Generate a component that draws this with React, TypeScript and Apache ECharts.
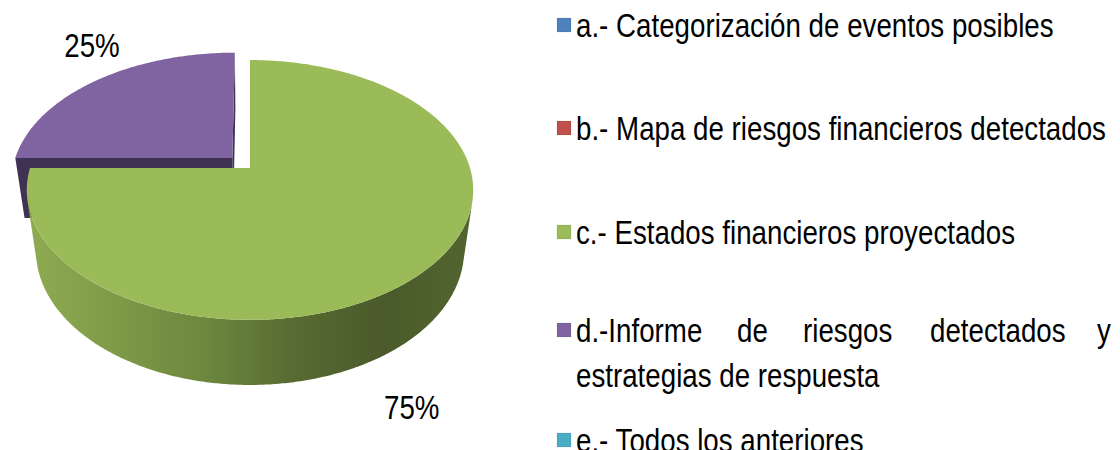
import React, { useEffect, useRef } from "react";
import * as echarts from "echarts";

// ---------- data ----------
const categories = [
  "a.- Categorización de eventos posibles",
  "b.- Mapa de riesgos financieros detectados",
  "c.- Estados financieros proyectados",
  "d.-Informe de riesgos detectados y estrategias de respuesta",
  "e.- Todos los anteriores",
];
const values = [0, 0, 75, 25, 0];

// ---------- styles / layout ----------
const topColors = ["#4F81BD", "#C0504D", "#9BBB59", "#8064A2", "#4BACC6"];
const sideStops: string[][] = [
  ["#3b6190", "#2c4a6e"],
  ["#933d3a", "#6f2e2c"],
  ["#8eab52", "#7e9a47", "#6d873e", "#576b32", "#4a5a2b", "#52652f"],
  ["#403253", "#3a2d4b"],
  ["#3a8398", "#2c6473"],
];
const explode = [0, 0, 0, 0.115, 0];
const labelOffsets = [
  [0, 0],
  [0, 0],
  [-7, 74],
  [-5, -35],
  [0, 0],
];
const legendCenters = [25, 128, 232, 330, 440];
const FONT = "'Liberation Sans', Arial, sans-serif";
const FS = 33;
const SX = 0.84;
const LH = 45;

const CX = 250;
const CY = 168;
const TILT = (35 * Math.PI) / 180;
const CAM = 4.844;
const FOCAL = 1065.7;
const DEPTH = 0.35;
const S = Math.sin(TILT);
const C = Math.cos(TILT);
const RAD = Math.PI / 180;

function project(X: number, Y: number, Z: number): number[] {
  const w = CAM - (Y * S + Z * C);
  return [CX + (FOCAL * X) / w, CY - (FOCAL * (Y * C - Z * S)) / w];
}

const total = values.reduce((a, b) => a + b, 0);
const angles: number[][] = [];
{
  let acc = -90;
  values.forEach((v) => {
    const span = (360 * v) / total;
    angles.push([acc, acc + span]);
    acc += span;
  });
}

function makeRender(idx: number) {
  return (_params: any, api: any) => {
    const v = api.value(0);
    if (!v) return { type: "group", children: [] };
    const [a0, a1] = angles[idx];
    const mid = ((a0 + a1) / 2) * RAD;
    const ox = explode[idx] * Math.cos(mid);
    const oz = explode[idx] * Math.sin(mid);
    const children: any[] = [];
    const stops = sideStops[idx];
    const sideFill = new echarts.graphic.LinearGradient(
      30,
      0,
      470,
      0,
      stops.map((c, k) => ({ offset: stops.length === 1 ? 0 : k / (stops.length - 1), color: c })),
      true
    );
    const cam = [0, CAM * S, CAM * C];
    const wall = (phi: number, nx: number, nz: number) => {
      const vis = (cam[0] - ox) * nx + (cam[2] - oz) * nz > 0;
      if (!vis) return;
      const p = phi * RAD;
      const rx = ox + Math.cos(p);
      const rz = oz + Math.sin(p);
      children.push({
        type: "polygon",
        shape: {
          points: [
            project(ox, 0, oz),
            project(rx, 0, rz),
            project(rx, -DEPTH, rz),
            project(ox, -DEPTH, oz),
          ],
        },
        style: { fill: stops[0] },
        z2: 1,
      });
    };
    wall(a0, Math.sin(a0 * RAD), -Math.cos(a0 * RAD));
    wall(a1, -Math.sin(a1 * RAD), Math.cos(a1 * RAD));
    const step = 0.5;
    let run: number[] = [];
    const flush = () => {
      if (run.length > 1) {
        const topPts = run.map((t) => project(ox + Math.cos(t * RAD), 0, oz + Math.sin(t * RAD)));
        const botPts = run
          .slice()
          .reverse()
          .map((t) => project(ox + Math.cos(t * RAD), -DEPTH, oz + Math.sin(t * RAD)));
        children.push({
          type: "polygon",
          shape: { points: topPts.concat(botPts) },
          style: { fill: sideFill },
          z2: 2,
        });
      }
      run = [];
    };
    for (let t = a0; t <= a1 + 1e-9; t += step) {
      const tt = Math.min(t, a1);
      const ct = Math.cos(tt * RAD);
      const st = Math.sin(tt * RAD);
      const vis = -ox * ct - oz * st - 1 + CAM * C * st > 0;
      if (vis) run.push(tt);
      else flush();
    }
    flush();
    const topPts: number[][] = [project(ox, 0, oz)];
    for (let t = a0; t <= a1 + 1e-9; t += step) {
      const tt = Math.min(t, a1);
      topPts.push(project(ox + Math.cos(tt * RAD), 0, oz + Math.sin(tt * RAD)));
    }
    children.push({
      type: "polygon",
      shape: { points: topPts },
      style: { fill: topColors[idx] },
      z2: 3,
    });
    const front = Math.sin(mid) > 0;
    const anchor = project(ox + Math.cos(mid), front ? -DEPTH : 0, oz + Math.sin(mid));
    children.push({
      type: "text",
      x: anchor[0] + labelOffsets[idx][0],
      y: anchor[1] + labelOffsets[idx][1],
      scaleX: SX,
      style: {
        text: Math.round((v / total) * 100) + "%",
        fontFamily: FONT,
        fontSize: FS,
        fill: "#000",
        align: "center",
        verticalAlign: "middle",
      },
      z2: 10,
    });
    return { type: "group", children };
  };
}

const richBase = { fontFamily: FONT, fontSize: FS, lineHeight: LH, fill: "#000" };
const dWords = ["d.-Informe", "de", "riesgos", "detectados", "y"];
const dWidths = [161, 66, 127, 167, 0];
const dLine2 = "estrategias de respuesta";

function legendGraphics() {
  const els: any[] = [];
  categories.forEach((name, i) => {
    const cy = legendCenters[i];
    els.push({
      type: "rect",
      shape: { x: 557, y: cy - 7, width: 14, height: 14 },
      style: { fill: topColors[i], stroke: "rgba(0,0,0,0.08)", lineWidth: 1 },
    });
    if (i === 3) {
      const rich: any = { l2: { ...richBase } };
      let line1 = "";
      dWords.forEach((w, k) => {
        rich["w" + k] = dWidths[k] ? { ...richBase, width: dWidths[k] / SX } : { ...richBase };
        line1 += "{w" + k + "|" + w + "}";
      });
      els.push({
        type: "text",
        x: 576,
        y: cy - LH / 2,
        scaleX: SX,
        style: {
          text: line1 + "\n{l2|" + dLine2 + "}",
          rich,
          fontFamily: FONT,
          fontSize: FS,
          lineHeight: LH,
          fill: "#000",
          align: "left",
          verticalAlign: "top",
        },
      });
    } else {
      els.push({
        type: "text",
        x: 576,
        y: cy,
        scaleX: SX,
        style: {
          text: name,
          fontFamily: FONT,
          fontSize: FS,
          fill: "#000",
          align: "left",
          verticalAlign: "middle",
        },
      });
    }
  });
  return els;
}

export default function App() {
  const ref = useRef<HTMLDivElement>(null);
  useEffect(() => {
    document.body.style.margin = "0";
    const chart = echarts.init(ref.current!, undefined, { renderer: "svg" });
    const series = categories.map((name, i) => {
      const [a0, a1] = angles[i];
      const mid = ((a0 + a1) / 2) * RAD;
      return {
        type: "custom",
        name,
        coordinateSystem: "none",
        z: 2 + Math.round((Math.sin(mid) + 1) * 10),
        itemStyle: { color: topColors[i] },
        renderItem: makeRender(i),
        data: [values[i]],
        silent: true,
      };
    });
    chart.setOption({
      animation: false,
      backgroundColor: "#ffffff",
      graphic: legendGraphics(),
      series,
    } as any);
    return () => chart.dispose();
  }, []);
  return <div ref={ref} style={{ width: 1120, height: 450 }} />;
}
